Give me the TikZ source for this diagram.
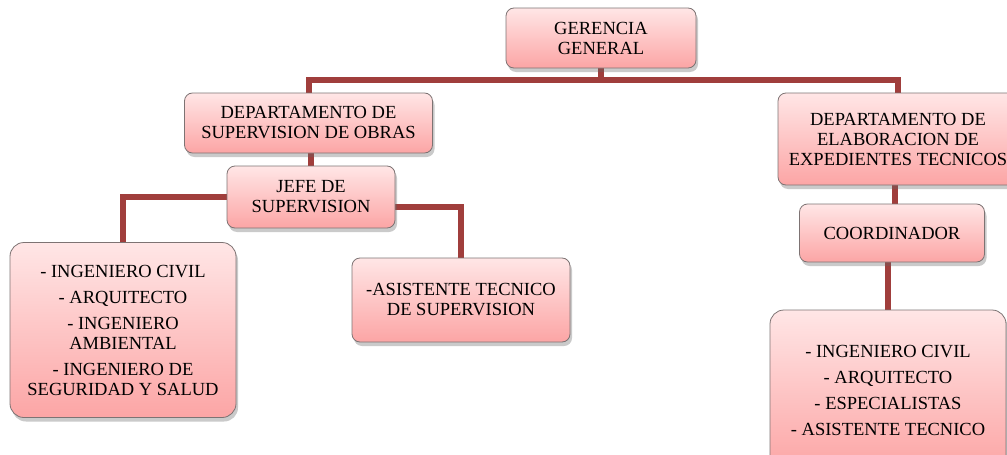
\documentclass[tikz,border=0pt]{standalone}
\usepackage{fontspec}
\setmainfont{Liberation Serif}
\usetikzlibrary{shadows,positioning}
\definecolor{linkred}{RGB}{160,62,60}
\definecolor{boxtop}{RGB}{255,230,230}
\definecolor{boxbot}{RGB}{252,165,165}
\definecolor{boxedge}{RGB}{125,115,115}
\pgfdeclarelayer{bg}
\pgfsetlayers{bg,main}
\tikzset{
  orgbox/.style={draw=boxedge, line width=0.8pt, rounded corners=8pt,
    top color=boxtop, bottom color=boxbot, align=center, inner sep=2pt,
    font=\fontsize{18.5}{20}\selectfont,
    drop shadow={shadow xshift=2pt, shadow yshift=-4pt, opacity=0.35, fill=black!60}},
  link/.style={draw=linkred, line width=6pt}
}
\begin{document}
\begin{tikzpicture}[x=1pt,y=-1pt]
\useasboundingbox (0,0) rectangle (1007,455);
\clip (0,0) rectangle (1007,455);
\node[orgbox, minimum width=190pt, minimum height=60pt] (ger) at (601,38) {GERENCIA\\GENERAL};
\node[orgbox, minimum width=248pt, minimum height=60pt] (dso) at (308.5,123) {DEPARTAMENTO DE\\SUPERVISION DE OBRAS};
\node[orgbox, minimum width=168pt, minimum height=62pt] (jefe) at (311,197) {JEFE DE\\SUPERVISION};
\node[orgbox, rounded corners=14pt, minimum width=226pt, minimum height=175pt] (lb) at (123,330)
  {- INGENIERO CIVIL\\[6pt]- ARQUITECTO\\[6pt]- INGENIERO\\AMBIENTAL\\[6pt]- INGENIERO DE\\SEGURIDAD Y SALUD};
\node[orgbox, minimum width=218pt, minimum height=84pt] (asis) at (461,300) {-ASISTENTE TECNICO\\DE SUPERVISION};
\node[orgbox, minimum width=240pt, minimum height=92pt] (dee) at (898,139) {DEPARTAMENTO DE\\ELABORACION DE\\EXPEDIENTES TECNICOS};
\node[orgbox, minimum width=185pt, minimum height=58pt] (coord) at (892,233) {COORDINADOR};
\node[orgbox, rounded corners=14pt, minimum width=236pt, minimum height=160pt] (br) at (888,390)
  {- INGENIERO CIVIL\\[6pt]- ARQUITECTO\\[6pt]- ESPECIALISTAS\\[6pt]- ASISTENTE TECNICO};
\coordinate (bar) at (601,80);
\begin{pgfonlayer}{bg}
\draw[link] (ger.south) -- (bar);
\draw[link] (dso.north) -- (dso.north |- bar) -| (dee.north);
\draw[link] ([xshift=2pt]dso.south) -- ([xshift=2pt]dso.south |- jefe.north);
\draw[link] (jefe.west) -| (lb.north);
\draw[link] ([yshift=-10pt]jefe.east) -| (asis.north);
\draw[link] ([xshift=-3pt]dee.south) -- ([xshift=-3pt]dee.south |- coord.north);
\draw[link] (br.north |- coord.south) -- (br.north);
\end{pgfonlayer}
\end{tikzpicture}
\end{document}
